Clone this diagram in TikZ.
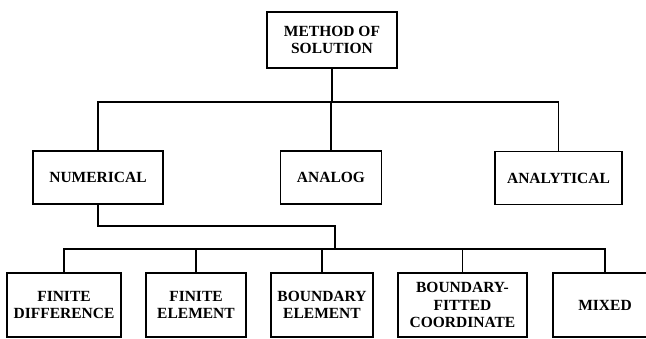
\documentclass[tikz,border=0pt]{standalone}
\usepackage{fontspec}
\setmainfont{Liberation Serif}
\usepackage{tikz}

\begin{document}
\begin{tikzpicture}[x=1pt, y=-1pt, line width=1.8pt, every node/.style={draw, line width=1.8pt, align=center, inner sep=0pt, font=\bfseries\fontsize{15.5}{17.5}\selectfont}]
    \clip (0,0) rectangle (646,338);
    \node (method) [minimum width=130pt, minimum height=56pt] at (332,40) {METHOD OF\\SOLUTION};
    \node (numerical) [minimum width=130pt, minimum height=53pt] at (98,177.5) {NUMERICAL};
    \node (analog) [minimum width=101pt, minimum height=53pt] at (331,177.5) {ANALOG};
    \node (analytical) [minimum width=127pt, minimum height=53pt] at (558.5,178) {ANALYTICAL};
    \node (findiff) [minimum width=114pt, minimum height=64pt] at (64,305) {FINITE\\DIFFERENCE};
    \node (finelem) [minimum width=100pt, minimum height=64pt] at (196,305) {FINITE\\ELEMENT};
    \node (bndelem) [minimum width=102pt, minimum height=64pt] at (322,305) {BOUNDARY\\ELEMENT};
    \node (bndfit) [minimum width=129pt, minimum height=64pt] at (462.5,305) {BOUNDARY-\\FITTED\\COORDINATE};
    \node (mixed) [minimum width=104pt, minimum height=64pt] at (605,305) {MIXED};
    \coordinate (upper) at (332,102);
    \coordinate (bend) at (335,226);
    \coordinate (lower) at (335,249);
    \draw (method) -- (upper);
    \draw (numerical.north) |- (upper) -| (analytical.north);
    \draw (upper) -| (analog.north);
    \draw (numerical.south) |- (bend) -- (lower);
    \draw (findiff.north) |- (lower) -| (mixed.north);
    \draw (finelem.north) -- (finelem.north |- lower);
    \draw (bndelem.north) -- (bndelem.north |- lower);
    \draw (bndfit.north) -- (bndfit.north |- lower);
\end{tikzpicture}
\end{document}
